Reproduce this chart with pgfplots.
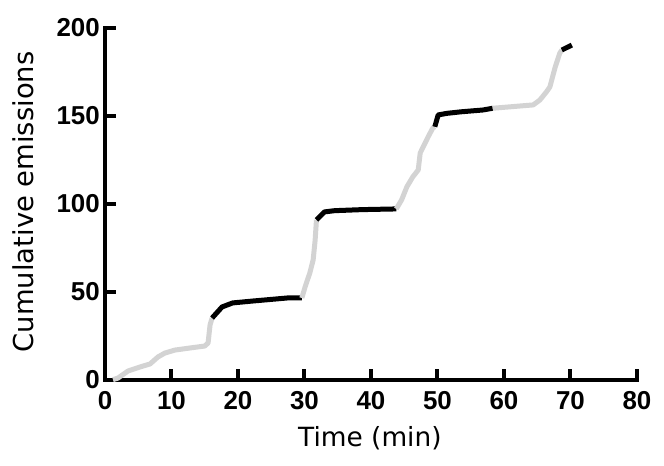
\documentclass[border=0pt]{standalone}
\usepackage{fontspec}
\setmainfont{DejaVu Sans}
\newfontfamily\tickfont{Liberation Sans}
\usepackage{pgfplots}
\pgfplotsset{compat=1.18}
\definecolor{lgray}{RGB}{211,211,211}
\begin{document}
\begin{tikzpicture}
\begin{axis}[
  scale only axis, width=532bp, height=352bp,
  xmin=0, xmax=80, ymin=0, ymax=200,
  axis x line=bottom, axis y line=left,
  axis line style={line width=4bp, -, line cap=rect, black},
  xtick={0,10,...,80}, ytick={0,50,...,200},
  tick align=inside, major tick length=11bp,
  major tick style={line width=4bp, black},
  /pgf/number format/assume math mode=true,
  xticklabel style={font=\fontsize{26}{26}\selectfont\tickfont\bfseries, inner sep=0pt, yshift=-11bp},
  yticklabel style={font=\fontsize{26}{26}\selectfont\tickfont\bfseries, inner sep=0pt, xshift=-5bp},
  xlabel={Time (min)},
  xlabel style={font=\fontsize{26.5}{30}\selectfont, at={(axis description cs:0.498,-0.19)}, anchor=base, inner sep=0pt},
  ylabel={Cumulative emissions},
  ylabel style={font=\fontsize{27.5}{30}\selectfont, at={(axis description cs:-0.1353,0.506)}, anchor=base, inner sep=0pt},
  clip=false,
]
% gray segments
\addplot[lgray, line width=5bp, line join=round] coordinates {
 (1.2,0.2) (1.95,1.1) (3.46,5.1) (5.26,7.4) (6.77,9.1) (7.97,13.1) (9.0,15.3) (10.5,17.0) (12.8,18.2) (15.0,19.3) (15.5,21.0) (15.8,31.3) (16.1,35.2)};
\addplot[black, line width=5bp, line join=round] coordinates {
 (16.1,35.2) (17.6,41.5) (19.2,43.8) (22.3,44.9) (27.4,46.6) (29.6,46.6)};
\addplot[lgray, line width=5bp, line join=round] coordinates {
 (29.6,46.6) (30.1,53.0) (30.8,60.8) (31.3,68.2) (31.6,79.5) (31.8,91)};
\addplot[black, line width=5bp, line join=round] coordinates {
 (31.8,91) (33.0,95.5) (34.5,96.2) (38.6,96.8) (43.8,97.2)};
\addplot[lgray, line width=5bp, line join=round] coordinates {
 (43.8,97.2) (44.6,102.3) (45.4,109.8) (46.3,115.5) (47.1,119.3) (47.4,129) (48.6,138.2) (49.3,143.2) (49.6,143.9)};
\addplot[black, line width=5bp, line join=round] coordinates {
 (49.6,143.9) (50.1,150.6) (51.4,151.5) (53.6,152.4) (56.8,153.4) (58.3,154.4)};
\addplot[lgray, line width=5bp, line join=round] coordinates {
 (58.3,154.4) (64.4,156.3) (65.4,159.1) (66.4,163.8) (66.9,166.5) (67.7,177.8) (68.4,185.8) (68.7,187.5)};
\addplot[black, line width=5bp, line join=round] coordinates {
 (68.7,187.5) (70.2,190.3)};
\end{axis}
\pgfresetboundingbox
\path[use as bounding box] (-105bp,-86bp) rectangle (559bp,380bp);
\end{tikzpicture}
\end{document}
